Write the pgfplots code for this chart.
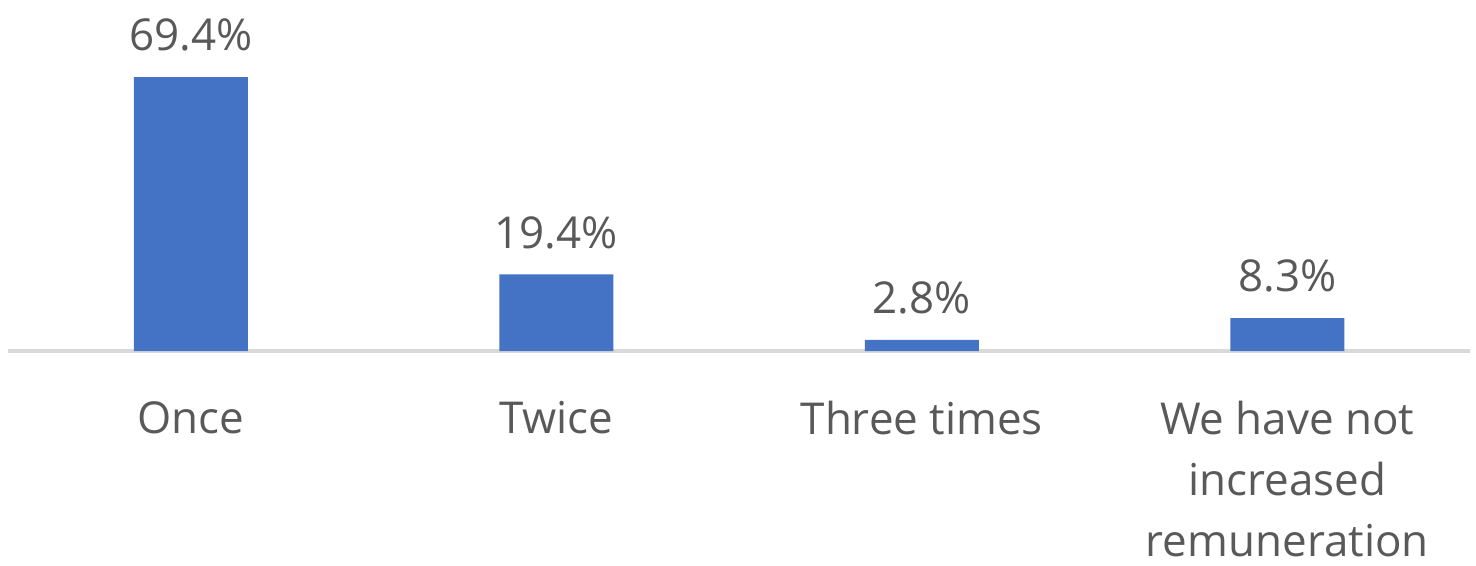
\documentclass[border=0pt]{standalone}
\usepackage{fontspec}
\setmainfont{Open Sans}
\usepackage{pgfplots}
\pgfplotsset{compat=1.18}
\definecolor{barblue}{HTML}{4472C4}
\definecolor{txt}{HTML}{595959}
\definecolor{axgray}{HTML}{D9D9D9}
\begin{document}
\begin{tikzpicture}
\begin{axis}[
    scale only axis,
    width=14.62cm, height=3.51cm,
    ybar, bar width=1.14cm,
    xmin=-0.5, xmax=3.5,
    ymin=0, ymax=88.9,
    axis x line=bottom,
    axis y line=none,
    x axis line style={axgray, line width=1.4pt, -},
    xtick=data,
    xticklabels={Once, Twice, Three times, {We have not\\increased\\remuneration}},
    xticklabel style={font=\fontsize{12.5}{17.3}\selectfont, text=txt, align=center, yshift=-0.38cm},
    major tick length=0pt,
    /pgf/number format/assume math mode=true,
    nodes near coords={\pgfmathprintnumber[fixed,precision=1,fixed zerofill,assume math mode=true]{\pgfplotspointmeta}\%},
    nodes near coords style={font=\fontsize{12.5}{15}\selectfont, text=txt, inner sep=0pt, yshift=0.25cm},
    clip=false,
]
\addplot[fill=barblue, draw=none] coordinates {(0,69.4) (1,19.4) (2,2.8) (3,8.3)};
\end{axis}
\pgfresetboundingbox
\path ([shift={(-0.08cm,-2.14cm)}]current axis.south west) rectangle ++(14.76cm,5.65cm);
\end{tikzpicture}
\end{document}
